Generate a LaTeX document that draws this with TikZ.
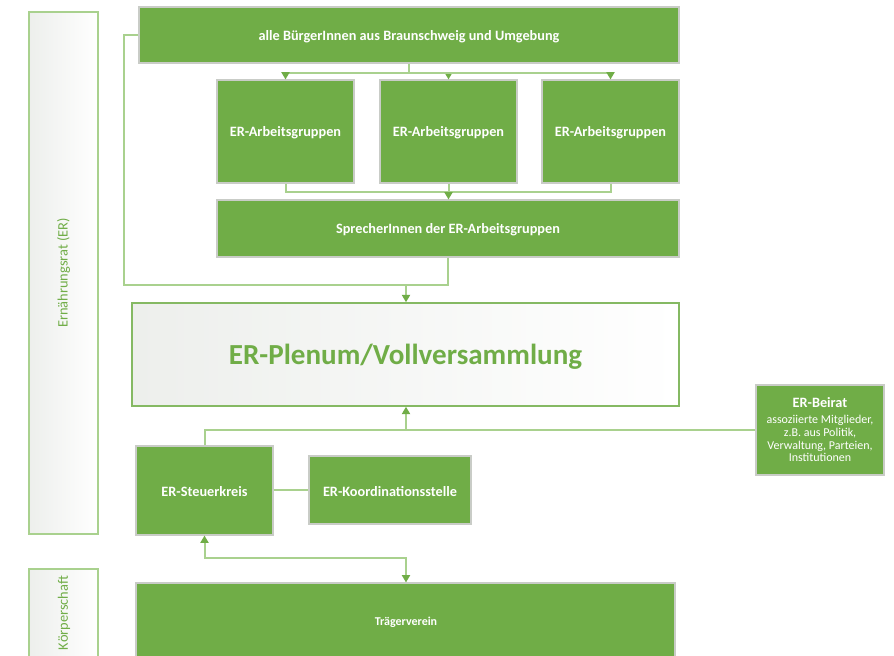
\documentclass[tikz,border=0pt]{standalone}
\usepackage{fontspec}
\setmainfont{Carlito}
\usetikzlibrary{arrows.meta,fit}
\definecolor{ergreen}{HTML}{70AD47}
\definecolor{erlight}{HTML}{A9D18E}
\definecolor{erborder}{HTML}{C9CCC7}
\definecolor{ergrey}{HTML}{EDEFEC}
\begin{document}
\begin{tikzpicture}[x=0.75pt,y=-0.75pt,
  gbox/.style={draw=erborder, line width=0.8pt, fill=ergreen, inner sep=0pt},
  gtext/.style={text=white, font=\bfseries\fontsize{10.7}{12}\selectfont, inner sep=0pt, align=center, yshift=-1pt},
  sidebox/.style={draw=erlight, line width=1.2pt, left color=ergrey, right color=white, inner sep=0pt},
  sidetext/.style={rotate=90, text=ergreen, font=\fontsize{10.8}{12}\selectfont, inner sep=0pt},
  plenumbox/.style={draw=ergreen!85, line width=1.1pt, left color=ergrey, right color=white, inner sep=0pt},
  plenumtext/.style={text=ergreen, font=\bfseries\fontsize{21.8}{25}\selectfont, inner sep=0pt, yshift=-1.5pt},
  conn/.style={draw=erlight, line width=1.5pt},
  tip/.style={-{Triangle[width=6pt,length=5.5pt,color=ergreen]}},
  tipboth/.style={{Triangle[width=6pt,length=5.5pt,color=ergreen]}-{Triangle[width=6pt,length=5.5pt,color=ergreen]}}
]
\path[use as bounding box] (0,0) rectangle (894,656);

% side boxes
\node[sidebox, fit={(29,12) (98,534)}] (erbox) {};
\node[sidetext] (ertext) at (erbox.center) {Ernährungsrat (ER)};
\node[sidebox, fit={(29,569) (98,662)}] (kbox) {};
\node[sidetext] (ktext) at (64,613) {Körperschaft};

% boxes
\node[gbox, fit={(139,7) (679,63)}] (top) {};
\node[gtext] (toptext) at (top.center) {alle BürgerInnen aus Braunschweig und Umgebung};
\node[gbox, fit={(217,80) (354,183)}] (ag1) {};
\node[gtext] (ag1text) at (ag1.center) {ER-Arbeitsgruppen};
\node[gbox, fit={(380,80) (517,183)}] (ag2) {};
\node[gtext] (ag2text) at (ag2.center) {ER-Arbeitsgruppen};
\node[gbox, fit={(542,80) (679,183)}] (ag3) {};
\node[gtext] (ag3text) at (ag3.center) {ER-Arbeitsgruppen};
\node[gbox, fit={(217,200) (679,257)}] (sprecher) {};
\node[gtext] (sprechertext) at (sprecher.center) {SprecherInnen der ER-Arbeitsgruppen};
\node[plenumbox, fit={(132,303) (679,406)}] (plenum) {};
\node[plenumtext] (plenumtext) at (plenum.center) {ER-Plenum/Vollversammlung};
\node[gbox, fit={(756,385) (884,475)}] (beirat) {};
\node[text=white, align=center, font=\fontsize{9}{9.5}\selectfont, inner sep=0pt] (beirattext) at (beirat.center)
  {{\bfseries\fontsize{10.7}{12}\selectfont ER-Beirat}\\[2.5pt]assoziierte Mitglieder,\\z.B. aus Politik,\\Verwaltung, Parteien,\\Institutionen};
\node[gbox, fit={(136,446) (273,535)}] (steuer) {};
\node[gtext] (steuertext) at (steuer.center) {ER-Steuerkreis};
\node[gbox, fit={(309,456) (471,524)}] (koord) {};
\node[gtext] (koordtext) at (koord.center) {ER-Koordinationsstelle};
\node[gbox, fit={(136,583) (675,660)}] (traeger) {};
\node[gtext, font=\bfseries\fontsize{9}{10}\selectfont] (traegertext) at (406,621) {Trägerverein};

% connectors
\coordinate (j1) at (409,73);
\draw[conn] (top.south -| j1) -- (j1);
\draw[conn,tip] (j1) -| (ag1.north);
\draw[conn,tip] (j1) -| (ag2.north);
\draw[conn,tip] (j1) -| (ag3.north);

\coordinate (j2) at (449,192);
\draw[conn] (ag1.south) |- (j2);
\draw[conn] (ag3.south) |- (j2);
\draw[conn,tip] (ag2.south) -- (ag2.south |- sprecher.north);

\coordinate (j3) at (406,285);
\coordinate (j4) at (124,285);
\draw[conn] (sprecher.south) |- (j3);
\draw[conn] (top.west) -| (j4) -- (j3);
\draw[conn,tip] (j3) -- (j3 |- plenum.north);

\coordinate (j5) at (406,430);
\draw[conn] (beirat.west) -- (j5);
\draw[conn] (steuer.north) |- (j5);
\draw[conn,tip] (j5) -- (j5 |- plenum.south);

\draw[conn] (steuer.east) -- (steuer.east -| koord.west);

\coordinate (j6) at (406,558);
\draw[conn,tipboth] (steuer.south) |- (j6) -- (j6 |- traeger.north);
\end{tikzpicture}
\end{document}
